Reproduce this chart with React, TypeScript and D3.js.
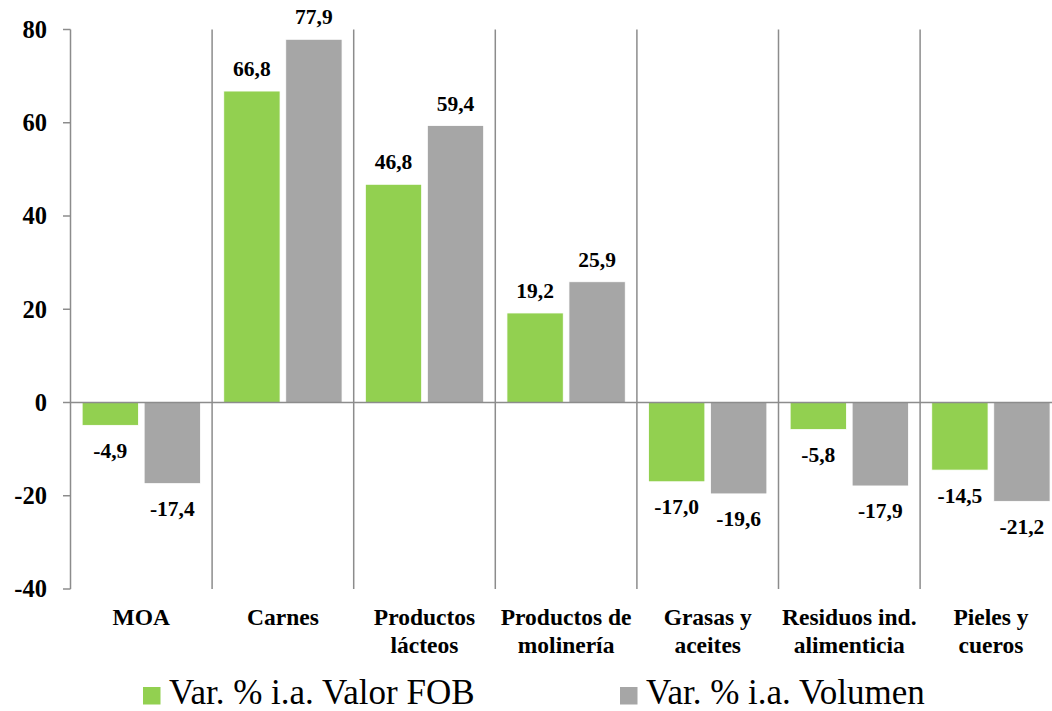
import React from "react";
import * as d3 from "d3";

const categories: string[][] = [
  ["MOA"],
  ["Carnes"],
  ["Productos", "lácteos"],
  ["Productos de", "molinería"],
  ["Grasas y", "aceites"],
  ["Residuos ind.", "alimenticia"],
  ["Pieles y", "cueros"],
];
const seriesNames = ["Var. % i.a. Valor FOB", "Var. % i.a. Volumen"];
const valorFOB = [-4.9, 66.8, 46.8, 19.2, -17.0, -5.8, -14.5];
const volumen = [-17.4, 77.9, 59.4, 25.9, -19.6, -17.9, -21.2];
const seriesColors = ["#92D050", "#A6A6A6"];
const yTicks = [80, 60, 40, 20, 0, -20, -40];

const W = 1052;
const H = 711;
const left = 70.5;
const step = 141.6;
const top = 29.5;
const bottom = 589;
const font = "Liberation Serif, Tinos, Times New Roman, serif";
const axisColor = "#8C8C8C";

export default function App() {
  const keys = categories.map((c) => c.join(" "));
  const x = d3
    .scaleBand<string>()
    .domain(keys)
    .range([left, left + step * keys.length])
    .paddingInner(0)
    .paddingOuter(0);
  const xs = d3
    .scaleBand<number>()
    .domain([0, 1])
    .range([0, x.bandwidth()])
    .paddingInner(0.092)
    .paddingOuter(0.188);
  const y = d3.scaleLinear().domain([-40, 80]).range([bottom, top]);
  const series = [valorFOB, volumen];
  const fmt = (v: number) => v.toFixed(1).replace(".", ",");

  return (
    <div style={{ position: "fixed", left: 0, top: 0 }}>
      <svg width={W} height={H} style={{ display: "block", background: "#fff" }}>
        {keys.slice(1).map((k) => (
          <line
            key={"sep" + k}
            x1={x(k)!}
            x2={x(k)!}
            y1={top}
            y2={bottom}
            stroke={axisColor}
            strokeWidth={1.5}
          />
        ))}
        {series.map((vals, si) =>
          vals.map((v, i) => {
            const bx = x(keys[i])! + xs(si)!;
            const y0 = y(0);
            const y1 = y(v);
            return (
              <rect
                key={`b${si}-${i}`}
                x={bx}
                y={Math.min(y0, y1)}
                width={xs.bandwidth()}
                height={Math.abs(y1 - y0)}
                fill={seriesColors[si]}
                stroke="#ffffff"
                strokeWidth={0.8}
              />
            );
          })
        )}
        <line x1={left} x2={W} y1={y(0)} y2={y(0)} stroke={axisColor} strokeWidth={1.5} />
        <line x1={left} x2={left} y1={top} y2={bottom} stroke={axisColor} strokeWidth={1.5} />
        {yTicks.map((t) => (
          <g key={"t" + t}>
            <line x1={left - 7.5} x2={left} y1={y(t)} y2={y(t)} stroke={axisColor} strokeWidth={1.5} />
            <text
              x={47}
              y={y(t) + 8.3}
              textAnchor="end"
              fontFamily={font}
              fontWeight="bold"
              fontSize={24.5}
              fill="#000"
            >
              {t}
            </text>
          </g>
        ))}
        {series.map((vals, si) =>
          vals.map((v, i) => {
            const cx = x(keys[i])! + xs(si)! + xs.bandwidth() / 2;
            const ly = v >= 0 ? y(v) - 15 : y(v) + 32.5;
            return (
              <text
                key={`l${si}-${i}`}
                x={cx}
                y={ly}
                textAnchor="middle"
                fontFamily={font}
                fontWeight="bold"
                fontSize={21.5}
                fill="#000"
              >
                {fmt(v)}
              </text>
            );
          })
        )}
        {categories.map((lines, i) => (
          <text
            key={"c" + i}
            x={x(keys[i])! + x.bandwidth() / 2}
            y={625}
            textAnchor="middle"
            fontFamily={font}
            fontWeight="bold"
            fontSize={23.5}
            fill="#000"
          >
            {lines.map((ln, j) => (
              <tspan key={j} x={x(keys[i])! + x.bandwidth() / 2} dy={j === 0 ? 0 : 27.7}>
                {ln}
              </tspan>
            ))}
          </text>
        ))}
        {[143, 620].map((lx, si) => (
          <g key={"lg" + si}>
            <rect x={lx} y={687} width={17.5} height={17.5} fill={seriesColors[si]} />
            <text x={lx + 26} y={704} fontFamily={font} fontSize={35} fill="#000">
              {seriesNames[si]}
            </text>
          </g>
        ))}
      </svg>
    </div>
  );
}
